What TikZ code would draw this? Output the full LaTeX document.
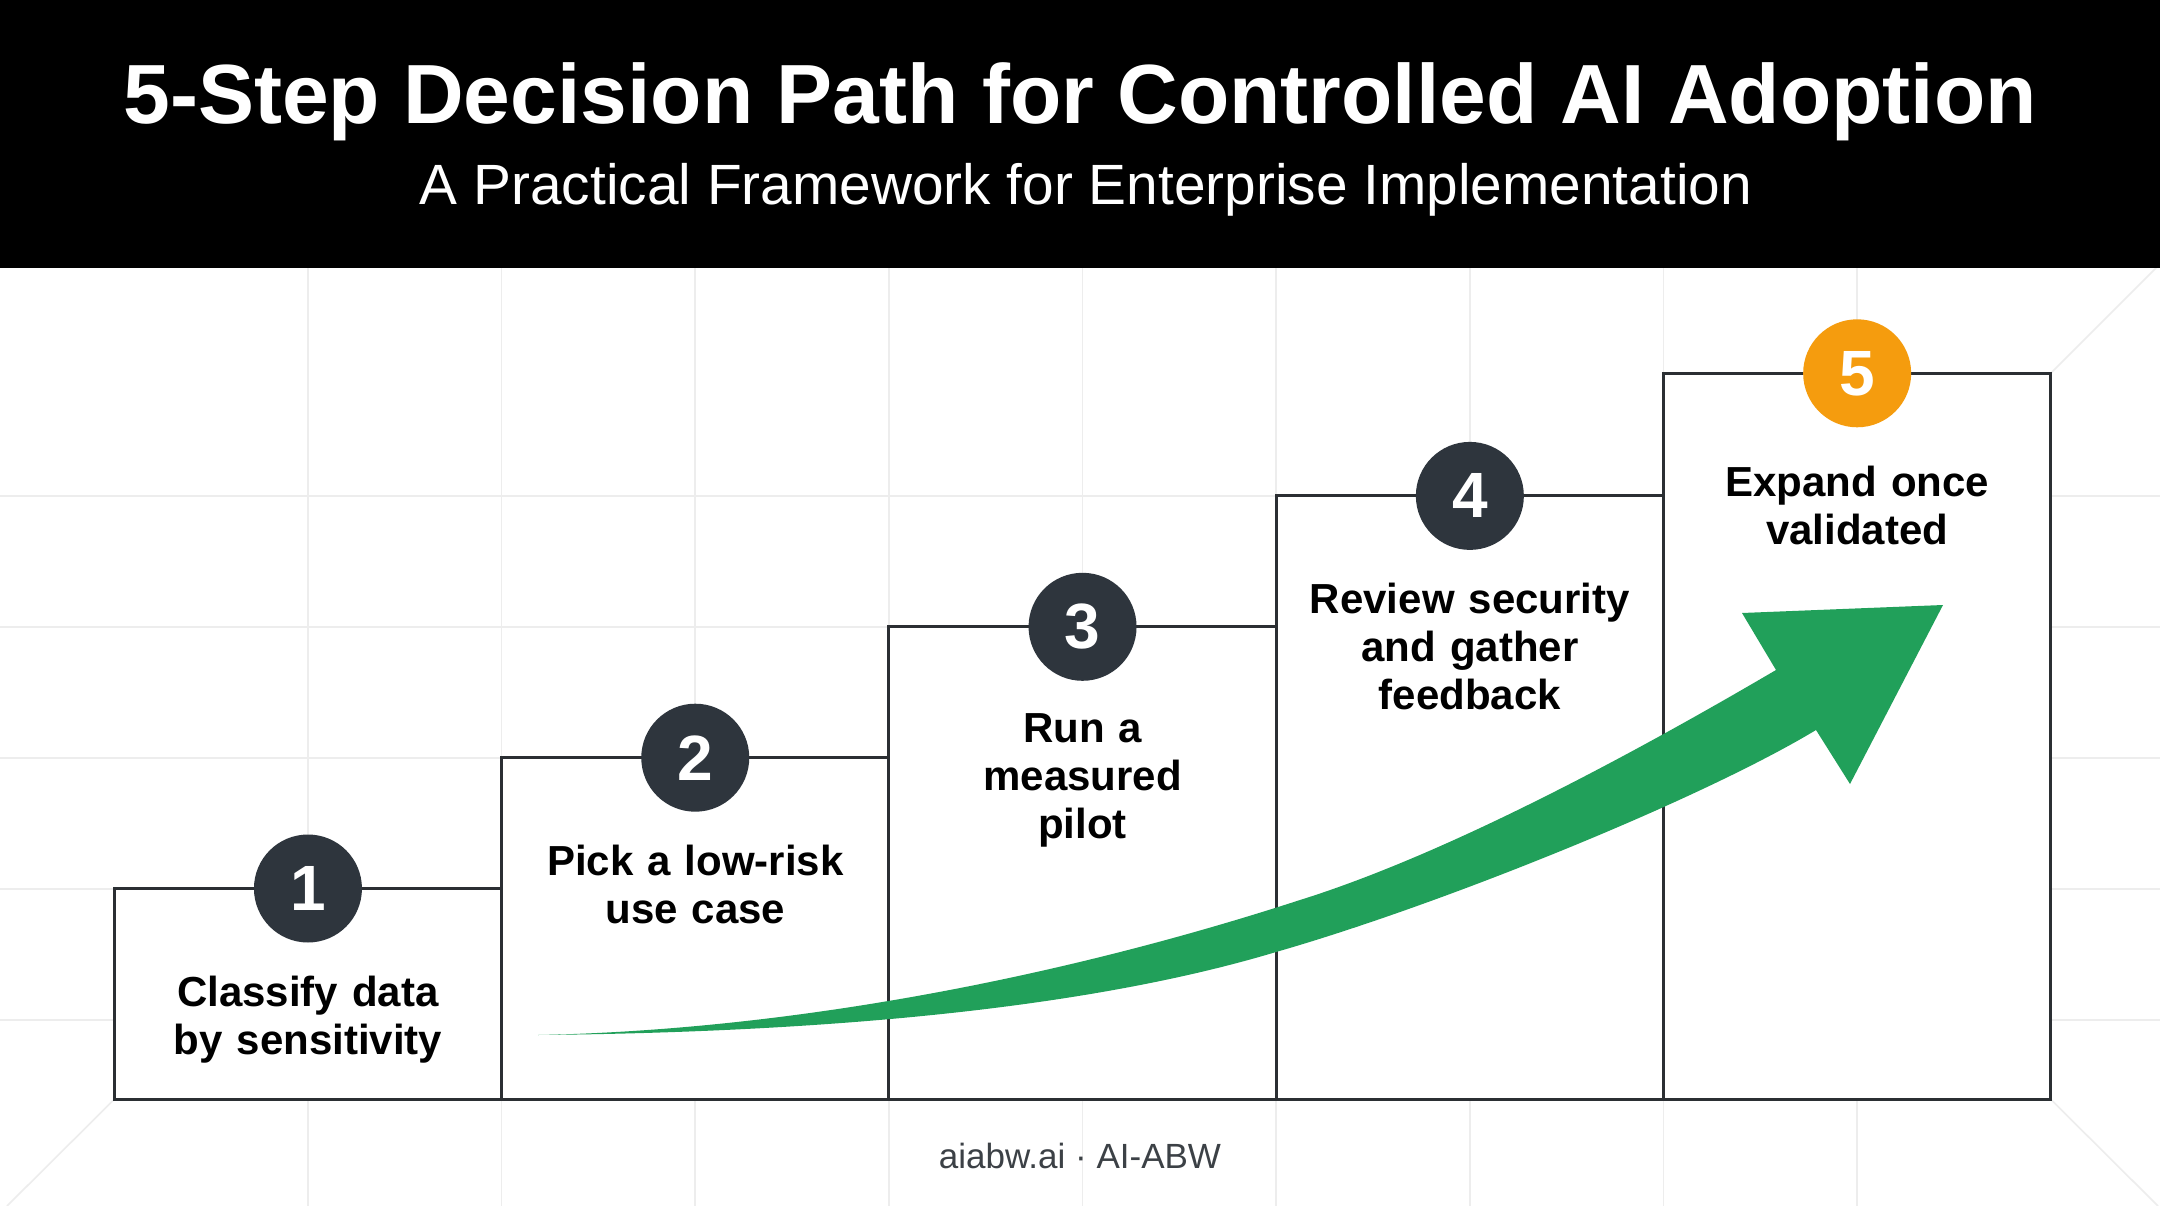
\documentclass[tikz,border=0pt]{standalone}
\usepackage{fontspec}
\setmainfont{Liberation Sans}
\usetikzlibrary{calc}
\definecolor{gridgray}{HTML}{EDEDED}
\definecolor{boxline}{HTML}{2B2F33}
\definecolor{badgedark}{HTML}{2E353D}
\definecolor{badgeorange}{HTML}{F59C0E}
\definecolor{arrowgreen}{HTML}{21A05A}
\definecolor{footgray}{HTML}{3C4146}
\begin{document}
\begin{tikzpicture}[x=1pt,y=-1pt,
  gridline/.style={draw=gridgray, line width=1.6pt},
  diagline/.style={draw=gridgray, line width=1.6pt},
  stepbox/.style={draw=boxline, fill=white, line width=3pt, inner sep=0pt, outer sep=0pt, minimum width=387.3pt, anchor=south west},
  badge/.style={circle, fill=badgedark, inner sep=0pt, minimum size=108pt, text=white, font=\bfseries\fontsize{64}{64}\selectfont},
  badgeo/.style={badge, fill=badgeorange},
  steptext/.style={anchor=north, inner sep=0pt, text width=370pt, align=center, text=black, font=\bfseries\fontsize{42}{48}\selectfont},
  titletext/.style={anchor=base, inner sep=0pt, text=white, font=\bfseries\fontsize{84}{90}\selectfont},
  subtext/.style={anchor=base, inner sep=0pt, text=white, font=\fontsize{56.8}{60}\selectfont},
  foottext/.style={anchor=base, inner sep=0pt, text=footgray, font=\fontsize{35}{40}\selectfont}
]
\useasboundingbox (0,0) rectangle (2160,1206);
\fill[white] (0,0) rectangle (2160,1206);

% background grid
\foreach \k in {1,...,9} \draw[gridline] ({114.3+\k*193.64},268) -- ++(0,938);
\foreach \yy in {496,627,758,889,1020} \draw[gridline] (0,\yy) -- (2160,\yy);
\draw[diagline] (2050.7,373.3) -- (2160,264);
\draw[diagline] (114.3,1099.3) -- (7,1206);
\draw[diagline] (2050.7,1099.3) -- (2158,1206);

% header
\fill[black] (0,0) rectangle (2160,268);
\node[titletext] (title) at (1080,124) {5-Step Decision Path for Controlled AI Adoption};
\node[subtext] (subtitle) at (1086,205) {A Practical Framework for Enterprise Implementation};

% step boxes
\node[stepbox, minimum height=210.8pt] (box1) at (114.3,1099.3) {};
\node[stepbox, minimum height=341.6pt] (box2) at (501.6,1099.3) {};
\node[stepbox, minimum height=472.5pt] (box3) at (888.9,1099.3) {};
\node[stepbox, minimum height=603.4pt] (box4) at (1276.2,1099.3) {};
\node[stepbox, minimum height=726.0pt] (box5) at (1663.5,1099.3) {};

% green arrow
\fill[arrowgreen] (538,1035)
  .. controls (790,1030) and (1060,978) .. (1300,900)
  .. controls (1460,850) and (1660,738) .. (1776,670)
  -- (1742,613) -- (1943,605) -- (1850,784) -- (1816,730)
  .. controls (1700,800) and (1440,905) .. (1276,952)
  .. controls (1100,1005) and (850,1032) .. (538,1035) -- cycle;

% badges
\node[badge] (n1) at (box1.north) {1};
\node[badge] (n2) at (box2.north) {2};
\node[badge] (n3) at (box3.north) {3};
\node[badge] (n4) at (box4.north) {4};
\node[badgeo] (n5) at (box5.north) {5};

% step texts
\node[steptext] (t1) at ($(box1.north)+(0,87)$) {Classify data\\by sensitivity};
\node[steptext] (t2) at ($(box2.north)+(0,87)$) {Pick a low-risk\\use case};
\node[steptext] (t3) at ($(box3.north)+(0,87)$) {Run a\\measured\\pilot};
\node[steptext] (t4) at ($(box4.north)+(0,87)$) {Review security\\and gather\\feedback};
\node[steptext] (t5) at ($(box5.north)+(0,93)$) {Expand once\\validated};

% footer
\node[foottext] (footer) at (1080,1168) {aiabw.ai · AI-ABW};
\end{tikzpicture}
\end{document}
